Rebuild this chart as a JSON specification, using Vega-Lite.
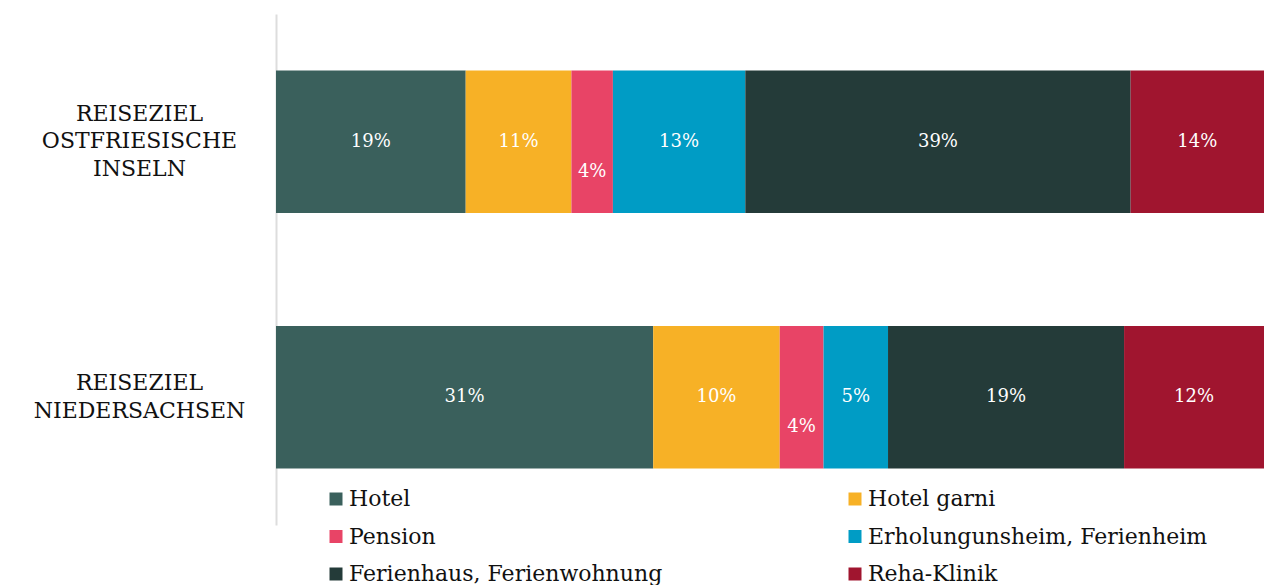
{
  "$schema": "https://vega.github.io/schema/vega-lite/v6.json",
  "autosize": "none",
  "width": 988,
  "height": 511,
  "padding": {"left": 276, "top": 14, "right": 0, "bottom": 60},
  "background": "white",
  "config": {"view": {"stroke": null}, "font": "DejaVu Serif"},
  "data": {
    "values": [
      {"ziel": "REISEZIEL OSTFRIESISCHE INSELN", "art": "Hotel", "rang": 1, "anteil": 0.192},
      {"ziel": "REISEZIEL OSTFRIESISCHE INSELN", "art": "Hotel garni", "rang": 2, "anteil": 0.107},
      {"ziel": "REISEZIEL OSTFRIESISCHE INSELN", "art": "Pension", "rang": 3, "anteil": 0.042},
      {"ziel": "REISEZIEL OSTFRIESISCHE INSELN", "art": "Erholungunsheim, Ferienheim", "rang": 4, "anteil": 0.134},
      {"ziel": "REISEZIEL OSTFRIESISCHE INSELN", "art": "Ferienhaus, Ferienwohnung", "rang": 5, "anteil": 0.39},
      {"ziel": "REISEZIEL OSTFRIESISCHE INSELN", "art": "Reha-Klinik", "rang": 6, "anteil": 0.135},
      {"ziel": "REISEZIEL NIEDERSACHSEN", "art": "Hotel", "rang": 1, "anteil": 0.31},
      {"ziel": "REISEZIEL NIEDERSACHSEN", "art": "Hotel garni", "rang": 2, "anteil": 0.104},
      {"ziel": "REISEZIEL NIEDERSACHSEN", "art": "Pension", "rang": 3, "anteil": 0.036},
      {"ziel": "REISEZIEL NIEDERSACHSEN", "art": "Erholungunsheim, Ferienheim", "rang": 4, "anteil": 0.053},
      {"ziel": "REISEZIEL NIEDERSACHSEN", "art": "Ferienhaus, Ferienwohnung", "rang": 5, "anteil": 0.194},
      {"ziel": "REISEZIEL NIEDERSACHSEN", "art": "Reha-Klinik", "rang": 6, "anteil": 0.115}
    ]
  },
  "encoding": {
    "y": {
      "field": "ziel", "type": "nominal", "title": null,
      "sort": ["REISEZIEL OSTFRIESISCHE INSELN", "REISEZIEL NIEDERSACHSEN"],
      "scale": {"paddingInner": 0.443, "paddingOuter": 0.2215},
      "axis": {
        "labelExpr": "split(datum.label, ' ')",
        "labelAlign": "center",
        "labelBaseline": "middle",
        "labelPadding": 137,
        "labelOffset": {"condition": {"test": "datum.value === 'REISEZIEL OSTFRIESISCHE INSELN'", "value": -28}, "value": -14},
        "labelFont": "DejaVu Serif",
        "labelFontSize": 22,
        "labelColor": "#111111",
        "labelLineHeight": 27.5,
        "labelLimit": 300,
        "ticks": false,
        "domainColor": "#dddddd",
        "domainWidth": 2,
        "grid": false
      }
    },
    "x": {
      "field": "anteil", "type": "quantitative", "stack": "normalize",
      "axis": null
    },
    "order": {"field": "rang", "type": "quantitative"},
    "color": {
      "field": "art", "type": "nominal",
      "sort": ["Hotel", "Hotel garni", "Pension", "Erholungunsheim, Ferienheim", "Ferienhaus, Ferienwohnung", "Reha-Klinik"],
      "scale": {
        "domain": ["Hotel", "Hotel garni", "Pension", "Erholungunsheim, Ferienheim", "Ferienhaus, Ferienwohnung", "Reha-Klinik"],
        "range": ["#3a605c", "#f7b126", "#e84466", "#009cc5", "#243b39", "#a0152f"]
      },
      "legend": {
        "title": null,
        "orient": "none",
        "legendX": 49,
        "legendY": 474,
        "direction": "horizontal",
        "columns": 2,
        "columnPadding": 181,
        "rowPadding": 15.5,
        "symbolType": "square",
        "symbolSize": 169,
        "symbolStrokeWidth": 0,
        "symbolOpacity": 1,
        "labelFont": "DejaVu Serif",
        "labelFontSize": 22,
        "labelColor": "#111111",
        "labelOffset": 2,
        "labelLimit": 500
      }
    }
  },
  "layer": [
    {
      "mark": {"type": "bar"}
    },
    {
      "mark": {"type": "text", "font": "DejaVu Serif", "fontSize": 18, "baseline": "middle", "align": "center", "dy": {"expr": "datum.art === 'Pension' ? 30 : 0"}},
      "encoding": {
        "x": {"field": "anteil", "type": "quantitative", "stack": "normalize", "bandPosition": 0.5},
        "text": {"field": "anteil", "type": "quantitative", "format": ".0%"},
        "fill": {"value": "white"}
      }
    }
  ]
}
